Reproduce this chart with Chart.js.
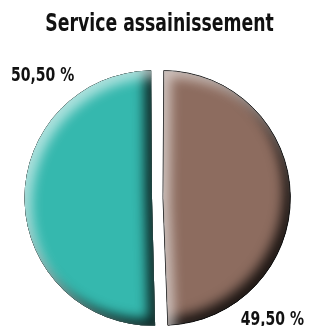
<!DOCTYPE html>
<html>
<head>
<meta charset="utf-8">
<script src="https://cdn.jsdelivr.net/npm/chart.js@4/dist/chart.umd.min.js"></script>
<style>
html,body{margin:0;padding:0;background:#fff;}
#wrap{position:relative;width:311px;height:326px;}
</style>
</head>
<body>
<div id="wrap"><canvas id="c" width="311" height="326"></canvas></div>
<script>
const titleText = 'Service assainissement';
const categories = ['A', 'B'];
const values = [49.5, 50.5];
const colors = ['#8d6c5f', '#35b8ae'];
const borderColors = ['#222222', '#35b8ae'];
const borderWidths = [1, 0];

const FONT = '"DejaVu Sans Condensed", "DejaVu Sans", sans-serif';
function fmt(v){ return v.toFixed(2).replace('.', ',') + ' %'; }

function drawNarrowText(ctx, text, x, y, size, sx){
  ctx.save();
  ctx.font = 'bold ' + size + 'px ' + FONT;
  ctx.fillStyle = '#111';
  ctx.textAlign = 'center';
  ctx.textBaseline = 'middle';
  ctx.translate(x, y);
  ctx.scale(sx, 1);
  ctx.fillText(text, 0, 0);
  ctx.restore();
}

const titlePlugin = {
  id: 'narrowTitle',
  afterDraw(chart){
    drawNarrowText(chart.ctx, titleText, chart.width / 2 + 4, 25, 24, 0.8);
  }
};

const bevelPlugin = {
  id: 'bevel',
  afterDatasetsDraw(chart){
    const ctx = chart.ctx;
    const meta = chart.getDatasetMeta(0);
    meta.data.forEach((arc) => {
      const passes = [
        {c:'rgba(0,0,0,0.8)', dx:-7, dy:-7, b:12},
        {c:'rgba(255,255,255,0.6)', dx:7, dy:7, b:12}
      ];
      passes.forEach(p => {
        ctx.save();
        ctx.globalAlpha = 0;
        arc.draw(ctx);
        ctx.globalAlpha = 1;
        ctx.clip();
        ctx.rect(-2000, -2000, 5000, 5000);
        ctx.fillStyle = '#000';
        ctx.shadowColor = p.c;
        ctx.shadowBlur = p.b;
        ctx.shadowOffsetX = p.dx;
        ctx.shadowOffsetY = p.dy;
        ctx.fill('evenodd');
        ctx.restore();
      });
    });
  }
};

const labelPlugin = {
  id: 'pctLabels',
  afterDraw(chart){
    const ctx = chart.ctx;
    const meta = chart.getDatasetMeta(0);
    meta.data.forEach((arc, i) => {
      const mid = (arc.startAngle + arc.endAngle) / 2 + 47.7 * Math.PI / 180;
      const r = arc.outerRadius * 1.375;
      drawNarrowText(ctx, fmt(values[i]), arc.x + Math.cos(mid) * r, arc.y + Math.sin(mid) * r, 19, 0.82);
    });
  }
};

new Chart(document.getElementById('c'), {
  type: 'pie',
  data: {
    labels: categories,
    datasets: [{
      data: values,
      backgroundColor: colors,
      borderColor: borderColors,
      borderWidth: borderWidths,
      offset: 22,
      radius: 122
    }]
  },
  options: {
    responsive: false,
    animation: false,
    layout: { padding: { left: 4, right: 0, top: 70, bottom: 0 } },
    plugins: {
      legend: { display: false },
      tooltip: { enabled: false },
      title: { display: false }
    }
  },
  plugins: [bevelPlugin, labelPlugin, titlePlugin]
});
</script>
</body>
</html>
